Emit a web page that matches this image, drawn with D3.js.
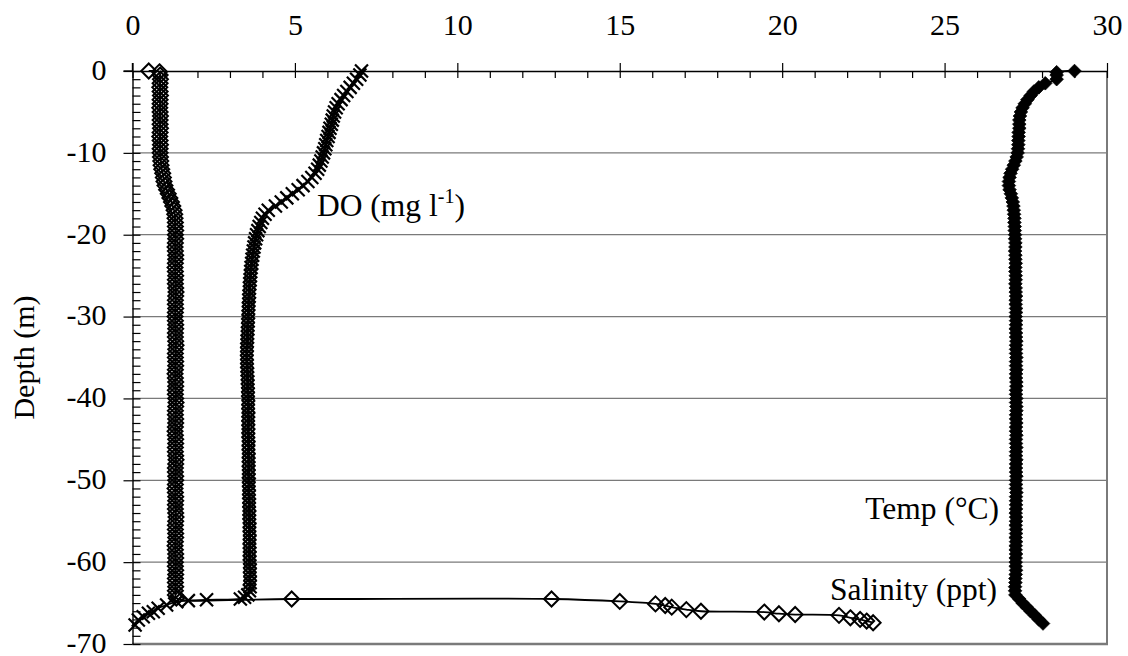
<!DOCTYPE html>
<html><head><meta charset="utf-8">
<script src="https://cdn.jsdelivr.net/npm/d3@7"></script>
<style>body{margin:0;background:#fff}svg{display:block}svg text{font-family:"Liberation Serif","Times New Roman",Times,serif !important}</style>
</head><body><svg id="c" width="1128" height="656"></svg>
<script>
// ---- DATA ----
const depth = [
 0,-0.5,-1,-1.5,-2,-2.5,-3,-3.5,-4,-4.5,
 -5,-5.5,-6,-6.5,-7,-7.5,-8,-8.5,-9,-9.5,
 -10,-10.5,-11,-11.5,-12,-12.5,-13,-13.5,-14,-14.5,
 -15,-15.5,-16,-16.5,-17,-17.5,-18,-18.5,-19,-19.5,
 -20,-20.5,-21,-21.5,-22,-22.5,-23,-23.5,-24,-24.5,
 -25,-25.5,-26,-26.5,-27,-27.5,-28,-28.5,-29,-29.5,
 -30,-30.5,-31,-31.5,-32,-32.5,-33,-33.5,-34,-34.5,
 -35,-35.5,-36,-36.5,-37,-37.5,-38,-38.5,-39,-39.5,
 -40,-40.5,-41,-41.5,-42,-42.5,-43,-43.5,-44,-44.5,
 -45,-45.5,-46,-46.5,-47,-47.5,-48,-48.5,-49,-49.5,
 -50,-50.5,-51,-51.5,-52,-52.5,-53,-53.5,-54,-54.5,
 -55,-55.5,-56,-56.5,-57,-57.5,-58,-58.5,-59,-59.5,
 -60,-60.5,-61,-61.5,-62,-62.5,-63,-63.5,-64];

const salinity = [
 0.5,0.85,0.86,0.85,0.84,0.85,0.86,0.85,0.85,0.84,
 0.85,0.86,0.85,0.85,0.86,0.85,0.84,0.85,0.86,0.85,
 0.85,0.86,0.87,0.88,0.9,0.93,0.95,0.97,1.0,1.05,
 1.1,1.15,1.2,1.24,1.28,1.3,1.31,1.32,1.32,1.33,
 1.32,1.33,1.32,1.31,1.32,1.33,1.33,1.32,1.31,1.32,
 1.33,1.32,1.32,1.33,1.34,1.33,1.32,1.32,1.33,1.32,
 1.31,1.32,1.33,1.33,1.32,1.32,1.33,1.34,1.33,1.32,
 1.32,1.33,1.33,1.32,1.31,1.32,1.33,1.33,1.32,1.32,
 1.33,1.34,1.33,1.32,1.32,1.33,1.33,1.32,1.31,1.32,
 1.33,1.33,1.32,1.32,1.33,1.34,1.33,1.32,1.32,1.33,
 1.33,1.32,1.31,1.32,1.33,1.33,1.32,1.32,1.33,1.34,
 1.33,1.32,1.32,1.33,1.33,1.32,1.31,1.32,1.33,1.33,
 1.32,1.32,1.33,1.33,1.32,1.32,1.33,1.32,1.32];
// extra samples off the 0.5 m grid: [depth, value]
const salinityExtra = [[-0.1,0.83],[-64.4,1.35],[-64.5,4.9],[-64.5,12.9],[-64.8,15.0],[-65.1,16.1],
 [-65.3,16.4],[-65.5,16.6],[-65.8,17.05],[-66.0,17.5],[-66.1,19.45],[-66.3,19.9],[-66.4,20.4],
 [-66.5,21.75],[-66.8,22.1],[-67.0,22.4],[-67.2,22.6],[-67.4,22.8]];

const dissolvedOxygen = [
 7.05,7.0,6.9,6.8,6.7,6.6,6.5,6.42,6.33,6.27,
 6.22,6.18,6.15,6.12,6.08,6.05,6.02,5.98,5.95,5.92,
 5.88,5.84,5.8,5.75,5.7,5.62,5.52,5.4,5.25,5.1,
 4.92,4.75,4.58,4.4,4.18,4.08,4.0,3.95,3.9,3.86,
 3.82,3.79,3.76,3.74,3.72,3.7,3.68,3.67,3.65,3.64,
 3.63,3.62,3.61,3.6,3.6,3.59,3.58,3.58,3.57,3.57,
 3.56,3.56,3.55,3.55,3.54,3.54,3.53,3.53,3.52,3.52,
 3.52,3.52,3.53,3.53,3.54,3.54,3.55,3.55,3.55,3.56,
 3.56,3.56,3.57,3.56,3.56,3.57,3.57,3.56,3.56,3.57,
 3.57,3.57,3.58,3.57,3.57,3.58,3.58,3.58,3.57,3.58,
 3.58,3.59,3.58,3.58,3.59,3.59,3.6,3.59,3.59,3.6,
 3.6,3.6,3.61,3.6,3.6,3.61,3.61,3.6,3.6,3.61,
 3.61,3.61,3.62,3.62,3.61,3.62,3.62,3.6,3.55];
const dissolvedOxygenExtra = [[-64.3,3.45],[-64.5,3.32],[-64.6,2.28],[-64.7,1.72],[-64.83,1.36],
 [-65.23,1.05],[-65.64,0.79],[-66.05,0.64],[-66.25,0.49],[-66.66,0.33],[-67.07,0.18],[-67.68,0.08]];

const temperature = [
 29.0,28.45,28.45,28.1,27.9,27.75,27.65,27.55,27.47,27.4,
 27.35,27.32,27.3,27.3,27.3,27.28,27.28,27.27,27.27,27.26,
 27.25,27.22,27.18,27.13,27.08,27.03,27.0,26.98,26.98,27.0,
 27.04,27.07,27.1,27.12,27.13,27.14,27.15,27.15,27.16,27.16,
 27.17,27.17,27.18,27.18,27.17,27.18,27.18,27.19,27.18,27.18,
 27.19,27.19,27.18,27.19,27.19,27.2,27.19,27.19,27.2,27.2,
 27.19,27.2,27.2,27.19,27.2,27.2,27.21,27.2,27.2,27.2,
 27.21,27.2,27.2,27.21,27.2,27.2,27.21,27.21,27.2,27.2,
 27.21,27.2,27.21,27.21,27.2,27.2,27.21,27.2,27.2,27.21,
 27.2,27.2,27.21,27.2,27.2,27.21,27.2,27.2,27.2,27.21,
 27.2,27.2,27.2,27.21,27.2,27.2,27.2,27.2,27.19,27.2,
 27.2,27.19,27.2,27.2,27.19,27.2,27.19,27.19,27.2,27.19,
 27.19,27.19,27.2,27.19,27.18,27.18,27.17,27.17,27.18];
const temperatureExtra = [[-0.15,28.45],[-64.5,27.3],[-65,27.4],[-65.5,27.53],[-66,27.65],
 [-66.5,27.78],[-67,27.9],[-67.5,28.03]];

const xTicks = [0,5,10,15,20,25,30];
const xMinor = [0,1,2,3,4,5,6,7,8,9,10,11,12,13,14,15,16,17,18,19,20,21,22,23,24,25,26,27,28,29,30];
const yTicks = [0,-10,-20,-30,-40,-50,-60,-70];
const yGrid = [-10,-20,-30,-40,-50,-60];
const yMinor = [0,-1,-2,-3,-4,-5,-6,-7,-8,-9,-10,-11,-12,-13,-14,-15,-16,-17,-18,-19,-20,-21,-22,-23,-24,-25,-26,-27,-28,-29,-30,-31,-32,-33,-34,-35,-36,-37,-38,-39,-40,-41,-42,-43,-44,-45,-46,-47,-48,-49,-50,-51,-52,-53,-54,-55,-56,-57,-58,-59,-60,-61,-62,-63,-64,-65,-66,-67,-68,-69,-70];

// ---- CHART ----
const FONT = '"Liberation Serif","Times New Roman",Times,serif';
const svg = d3.select('#c').attr('font-family',FONT);
const P = {l:132.5, r:1107, t:71, b:644};
const x = d3.scaleLinear().domain([0,30]).range([P.l,P.r]);
const y = d3.scaleLinear().domain([0,-70]).range([P.t,P.b]);

function build(vals, extra){
  const pts = depth.map((d,i)=>({d, v:vals[i]})).concat(extra.map(e=>({d:e[0], v:e[1]})));
  return pts.map((p,i)=>({...p,i})).sort((a,b)=> (b.d-a.d) || (a.i-b.i));
}
const sal = build(salinity, salinityExtra);
const dox = build(dissolvedOxygen, dissolvedOxygenExtra);
const tmp = build(temperature, temperatureExtra);

// grid
svg.append('g').selectAll('line').data(yGrid).join('line')
  .attr('x1',x(0)).attr('x2',x(30)).attr('y1',d=>y(d)).attr('y2',d=>y(d))
  .attr('stroke','#7a7a7a').attr('stroke-width',1.2);
// plot-area border (right, bottom)
svg.append('line').attr('x1',x(30)).attr('x2',x(30)).attr('y1',y(0)).attr('y2',y(-70)+1)
  .attr('stroke','#7a7a7a').attr('stroke-width',2);
svg.append('line').attr('x1',x(0)).attr('x2',x(30)+1).attr('y1',y(-70)).attr('y2',y(-70))
  .attr('stroke','#7a7a7a').attr('stroke-width',2.6);

// axes
const fmt = d=>String(d);
const gTopIn = svg.append('g').attr('transform',`translate(0,${P.t})`)
  .call(d3.axisTop(x).tickValues(xMinor).tickSize(-7).tickSizeOuter(0).tickFormat(''));
const gTop = svg.append('g').attr('transform',`translate(0,${P.t})`)
  .call(d3.axisTop(x).tickValues(xTicks).tickSize(8).tickSizeOuter(0).tickPadding(28).tickFormat(fmt));
const gLeftIn = svg.append('g').attr('transform',`translate(${P.l},0)`)
  .call(d3.axisLeft(y).tickValues(yMinor).tickSize(-8).tickSizeOuter(0).tickFormat(''));
const gLeft = svg.append('g').attr('transform',`translate(${P.l},0)`)
  .call(d3.axisLeft(y).tickValues(yTicks).tickSize(9).tickSizeOuter(0).tickPadding(17).tickFormat(fmt));
[gTopIn,gTop,gLeftIn,gLeft].forEach(g=>{
  g.attr('font-family',FONT).attr('font-size',30);
  g.selectAll('path.domain').attr('stroke','#000').attr('stroke-width',1.4);
  g.selectAll('.tick line').attr('stroke','#000').attr('stroke-width',1.2);
  g.selectAll('text').attr('fill','#000');
});
gLeft.selectAll('text').attr('dy','0.28em');
gLeftIn.select('path.domain').remove(); gTopIn.select('path.domain').remove();
// extend axis lines across the corner
svg.append('line').attr('x1',P.l-9).attr('x2',P.l).attr('y1',P.t).attr('y2',P.t).attr('stroke','#000').attr('stroke-width',1.4);
svg.append('line').attr('x1',P.l).attr('x2',P.l).attr('y1',P.t-8).attr('y2',P.t).attr('stroke','#000').attr('stroke-width',1.4);

// axis title
svg.append('text').attr('transform',`translate(34,${(P.t+P.b)/2}) rotate(-90)`)
  .attr('text-anchor','middle').attr('font-size',30).text('Depth (m)');

const line = d3.line().x(p=>x(p.v)).y(p=>y(p.d)).curve(d3.curveCatmullRom.alpha(0.5));
const diamond = s=>`M0,${-s}L${s},0L0,${s}L${-s},0Z`;
const cross = s=>`M${-s},${-s}L${s},${s}M${-s},${s}L${s},${-s}`;

function series(pts, shape, fill, sw){
  const g = svg.append('g');
  g.append('path').attr('d',line(pts)).attr('fill','none').attr('stroke','#000').attr('stroke-width',1.8);
  g.selectAll('path.m').data(pts).join('path').attr('class','m')
    .attr('transform',p=>`translate(${x(p.v)},${y(p.d)})`).attr('d',shape)
    .attr('fill',fill).attr('stroke','#000').attr('stroke-width',sw);
}
series(sal, diamond(7.5), 'none', 2.0);
series(dox, cross(6.5), 'none', 2.2);
series(tmp, diamond(6.8), '#000', 0.8);

// series labels
const lab = svg.append('g').attr('font-size',31.5).attr('fill','#000');
const t1 = lab.append('text').attr('x',317).attr('y',216);
t1.append('tspan').text('DO (mg l');
t1.append('tspan').attr('font-size',20).attr('dy',-13).text('-1');
t1.append('tspan').attr('dy',13).text(')');
lab.append('text').attr('x',999).attr('y',519).attr('text-anchor','end').text('Temp (°C)');
lab.append('text').attr('x',997).attr('y',600).attr('text-anchor','end').text('Salinity (ppt)');
</script></body></html>
